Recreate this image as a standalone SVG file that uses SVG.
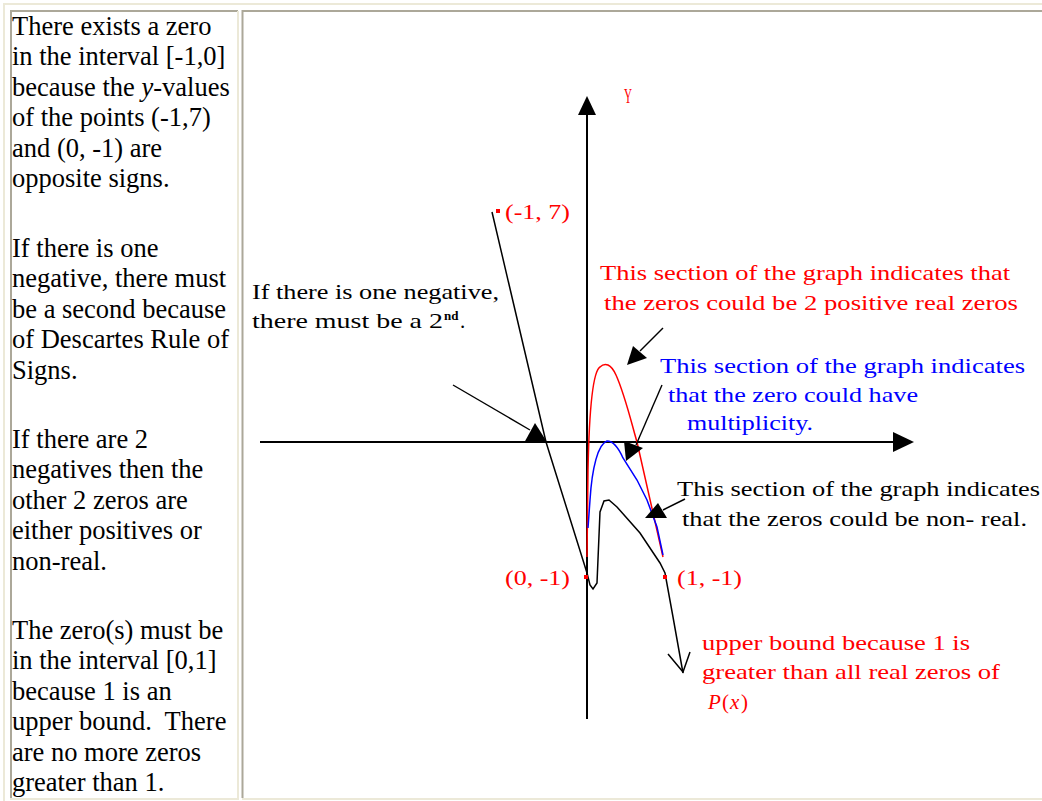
<svg xmlns="http://www.w3.org/2000/svg" width="1042" height="801" viewBox="0 0 1042 801">
<style>
.lt{font-family:"Liberation Serif","Times New Roman",serif;font-size:26.5px;fill:#000}
.gt{font-family:"Liberation Serif","Times New Roman",serif;font-size:21px}
.red{fill:#ff0000}
.blue{fill:#0000ff}
.blk{fill:#000}
.light{stroke:#ece9d8;stroke-width:2;fill:none}
.dark{stroke:#aca899;stroke-width:2;fill:none}
.ax{stroke:#000;stroke-width:2;fill:none}
.ln{stroke:#000;stroke-width:1.4;fill:none}
.head{fill:#000;stroke:none}
</style>
<rect width="1042" height="801" fill="#fff"/>
<g id="table">
<path class="light" d="M4,801 V4 H1042"/>
<path class="dark" d="M11,798 V11 H238"/>
<path class="light" d="M238,11 V799 H10"/>
<path class="dark" d="M242.5,798 V11 H1042"/>
<path class="light" d="M242,799 H1042"/>
</g>
<g id="left-text" class="lt">
<text x="12" y="35">There exists a zero</text>
<text x="12" y="65.4">in the interval [-1,0]</text>
<text x="12" y="95.8">because the <tspan font-style="italic">y</tspan>-values</text>
<text x="12" y="126.2">of the points (-1,7)</text>
<text x="12" y="156.6">and (0, -1) are</text>
<text x="12" y="187">opposite signs.</text>
<text x="12" y="257">If there is one</text>
<text x="12" y="287.4">negative, there must</text>
<text x="12" y="317.8">be a second because</text>
<text x="12" y="348.2">of Descartes Rule of</text>
<text x="12" y="378.6">Signs.</text>
<text x="12" y="448">If there are 2</text>
<text x="12" y="478.4">negatives then the</text>
<text x="12" y="508.8">other 2 zeros are</text>
<text x="12" y="539.2">either positives or</text>
<text x="12" y="569.6">non-real.</text>
<text x="12" y="639">The zero(s) must be</text>
<text x="12" y="669.4">in the interval [0,1]</text>
<text x="12" y="699.8">because 1 is an</text>
<text x="12" y="730.2">upper bound.&#160; There</text>
<text x="12" y="760.6">are no more zeros</text>
<text x="12" y="791">greater than 1.</text>
</g>
<g id="axes">
<line class="ax" x1="587" y1="112" x2="587" y2="719"/>
<polygon class="head" points="578,115 596,115 587,96"/>
<line class="ax" x1="260" y1="442" x2="896" y2="442"/>
<polygon class="head" points="893,432 893,452 914,442"/>
<text class="gt red" x="624" y="103" font-size="11" textLength="8" lengthAdjust="spacingAndGlyphs">Y</text>
</g>
<g id="curves">
<path d="M587,557 L588,470 C589,420 592,372 600,367 C605,362 611,364 616,375 C625,395 632,425 637,442 L663,557" stroke="#ff0000" stroke-width="1.5" fill="none"/>
<path d="M588,528 L590,500 C592,468 598,444 607,441 C613,441 619,449 623,458 L637,480 L647,500 L657,527 L663,555" stroke="#0000ff" stroke-width="1.5" fill="none"/>
<path d="M492,212 L546,442 L587,573 L590,585 L593,589 L597,583 L600,512 L604,501 L609,500 L617,507 L640,533 L660,563 L665,573 L673,617 L683,673" stroke="#000" stroke-width="1.5" fill="none"/>
<path d="M668,654 L683,672 L690,652" stroke="#000" stroke-width="1.5" fill="none"/>
</g>
<g id="points" fill="#ff0000">
<rect x="496" y="209" width="4" height="4"/>
<rect x="584" y="575" width="4" height="4"/>
<rect x="663" y="575" width="4" height="4"/>
</g>
<g id="connectors">
<line class="ln" x1="453" y1="385" x2="530" y2="430"/>
<polygon class="head" points="524,443 547,442 535,423"/>
<line class="ln" x1="663" y1="328" x2="640" y2="351"/>
<polygon class="head" points="627,365 647,358 633,346"/>
<line class="ln" x1="662" y1="385" x2="636" y2="445"/>
<polygon class="head" points="624,441 643,448 626,461"/>
<line class="ln" x1="685" y1="499" x2="663" y2="510"/>
<polygon class="head" points="645,518 667,518 658,503"/>
</g>
<g id="label-pt-m1-7"><text class="gt red" x="505" y="219" textLength="65" lengthAdjust="spacingAndGlyphs">(-1, 7)</text></g>
<g id="label-pt-0-m1"><text class="gt red" x="505" y="585" textLength="65" lengthAdjust="spacingAndGlyphs">(0, -1)</text></g>
<g id="label-pt-1-m1"><text class="gt red" x="677" y="585" textLength="65" lengthAdjust="spacingAndGlyphs">(1, -1)</text></g>
<g id="note-negative" class="gt blk">
<text x="252" y="299" textLength="247" lengthAdjust="spacingAndGlyphs">If there is one negative,</text>
<text x="252" y="328" textLength="191" lengthAdjust="spacingAndGlyphs">there must be a 2</text>
<text x="444" y="320" font-size="13" font-weight="bold">nd</text>
<text x="460" y="328">.</text>
</g>
<g id="note-positive" class="gt red">
<text x="600" y="280" textLength="410" lengthAdjust="spacingAndGlyphs">This section of the graph indicates that</text>
<text x="604" y="310" textLength="414" lengthAdjust="spacingAndGlyphs">the zeros could be 2 positive real zeros</text>
</g>
<g id="note-multiplicity" class="gt blue">
<text x="660" y="373" textLength="365" lengthAdjust="spacingAndGlyphs">This section of the graph indicates</text>
<text x="668" y="402" textLength="250" lengthAdjust="spacingAndGlyphs">that the zero could have</text>
<text x="687" y="430" textLength="126" lengthAdjust="spacingAndGlyphs">multiplicity.</text>
</g>
<g id="note-nonreal" class="gt blk">
<text x="677" y="496" textLength="363" lengthAdjust="spacingAndGlyphs">This section of the graph indicates</text>
<text x="682" y="526" textLength="345" lengthAdjust="spacingAndGlyphs">that the zeros could be non- real.</text>
</g>
<g id="note-upper" class="gt red">
<text x="702" y="650" textLength="268" lengthAdjust="spacingAndGlyphs">upper bound because 1 is</text>
<text x="702" y="679" textLength="298" lengthAdjust="spacingAndGlyphs">greater than all real zeros of</text>
<text x="708" y="709" font-style="italic">P</text><text x="722" y="709">(</text><text x="730" y="709" font-style="italic">x</text><text x="741" y="709">)</text>
</g>
</svg>
